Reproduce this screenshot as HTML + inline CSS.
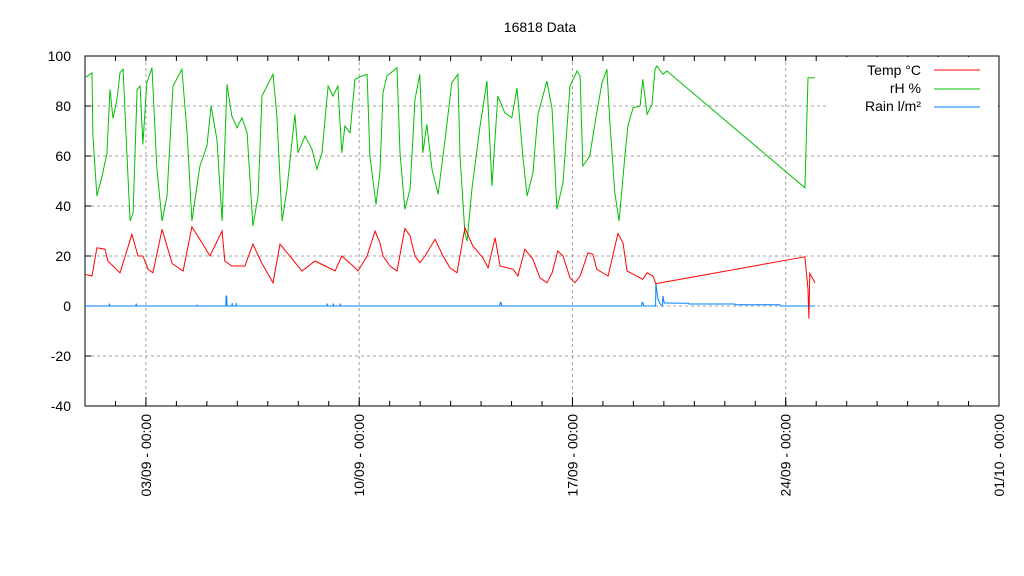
<!DOCTYPE html>
<html><head><meta charset="utf-8"><style>
body{margin:0;background:#fff;}
svg{display:block;font-family:"Liberation Sans",sans-serif;}
</style></head><body>
<svg id="chart" width="1024" height="576" viewBox="0 0 1024 576" xmlns="http://www.w3.org/2000/svg">
<rect width="1024" height="576" fill="#fff"/>
<text x="540" y="32" font-size="14" text-anchor="middle">16818 Data</text>
<g id="grid"></g>
<g id="axes"></g>
<g id="series"></g>
<g>
<rect x="826" y="57" width="172" height="59" fill="#fff"/>
<text x="921" y="75" font-size="14" text-anchor="end">Temp °C</text>
<line x1="934" y1="70" x2="980" y2="70" stroke="#ff0000"/>
<text x="921" y="93" font-size="14" text-anchor="end">rH %</text>
<line x1="934" y1="89" x2="980" y2="89" stroke="#00c000"/>
<text x="921" y="111" font-size="14" text-anchor="end">Rain l/m²</text>
<line x1="934" y1="107" x2="980" y2="107" stroke="#0080ff"/>
</g>
</svg>
<script>
// days since 01/09 00:00
const yTicks=[-40,-20,0,20,40,60,80,100];
const xTickDays=[2,9,16,23,30];
const xTickLabels=["03/09 - 00:00","10/09 - 00:00","17/09 - 00:00","24/09 - 00:00","01/10 - 00:00"];
const tempDays=[0,.23,.39,.66,.75,1.15,1.54,1.74,1.90,2.07,2.23,2.53,2.86,3.22,3.51,3.84,4.10,4.50,4.59,4.82,5.25,5.51,5.81,6.17,6.40,6.79,7.12,7.55,7.88,8.21,8.43,8.80,8.96,9.26,9.52,9.68,9.78,10.01,10.24,10.50,10.67,10.83,10.99,11.16,11.49,11.75,11.98,12.21,12.47,12.73,13.06,13.23,13.46,13.62,14.05,14.21,14.44,14.70,14.93,15.16,15.33,15.52,15.69,15.92,16.08,16.25,16.51,16.67,16.80,17.17,17.49,17.66,17.79,18.31,18.45,18.64,18.74,18.77,23.63,23.73,23.76,23.79,23.96];
const tempVals=[12.7,12,23.3,22.7,18,13.3,28.7,20,20,14.7,13.3,30.7,17,14,31.7,25.3,20,30,18,16,16,24.7,17,9.3,24.7,19,14,18,16,14,20,16,14,20,30,25.3,20,16,14,31,28,20,17.3,20,26.7,20,15.3,13.3,31.3,24,19.3,15.3,27.3,16,14.7,12,22.7,18.7,11.3,9.3,13.3,22,20,11.3,9.3,12,21.3,20.7,14.7,12,29,25.3,14,10.7,13.3,12,8.9,9,19.7,6.7,-5,13,9.3];
const rhDays=[0,.23,.26,.39,.56,.72,.82,.92,1.05,1.15,1.25,1.38,1.48,1.58,1.71,1.81,1.90,2.03,2.20,2.36,2.53,2.69,2.89,3.18,3.35,3.51,3.77,4.00,4.14,4.33,4.50,4.66,4.82,4.99,5.15,5.32,5.51,5.68,5.81,6.17,6.30,6.47,6.63,6.89,6.99,7.22,7.45,7.61,7.78,7.98,8.14,8.30,8.43,8.53,8.70,8.86,9.09,9.26,9.35,9.55,9.68,9.78,9.91,10.24,10.34,10.50,10.67,10.83,10.99,11.09,11.22,11.39,11.59,11.82,12.04,12.24,12.31,12.47,12.54,12.70,12.96,13.19,13.36,13.55,13.78,14.01,14.18,14.37,14.51,14.70,14.87,15.16,15.33,15.49,15.69,15.92,16.15,16.25,16.34,16.57,16.74,16.97,17.13,17.23,17.39,17.53,17.72,17.82,17.99,18.22,18.31,18.45,18.61,18.71,18.77,18.97,19.10,23.63,23.73,23.96];
const rhVals=[91.3,93.3,68,44,52,61,86.7,75,82.7,93.3,94.7,60,34,37.3,86.7,88,64.7,89.3,95.3,54.7,34,44,88,94.7,69.3,34,56,64,80,66.7,34,88.7,76,71.3,75.3,69.3,32,44,84,92.7,76,34,46.7,76.7,61.3,68,62.7,54.7,61.3,88,84,88,61.3,72,69.3,90.7,92,92.7,60,40.7,53.3,85.3,92,95.3,61.3,38.7,46.7,82.7,92.7,61.3,72.7,54.7,44.7,66.7,89.3,92.7,60,29.3,26,46.7,71.3,90,48,84,77.3,75.3,87.3,60,44,53.3,76.7,90,78.7,38.7,49.3,88,94,92,56,60,73.3,89.3,94.7,73.3,45.3,34,60,72,79.3,80,90.7,76.7,80.7,94.7,96,92.7,94,47.3,91.3,91.3];
const rainDays=[0,.79,.80,.81,1.67,1.68,1.69,3.67,3.68,3.69,4.62,4.63,4.65,4.66,4.82,4.83,4.84,4.95,4.96,4.97,7.94,7.95,7.96,8.14,8.15,8.16,8.37,8.38,8.39,13.61,13.63,13.66,13.68,18.27,18.29,18.32,18.33,18.73,18.74,18.80,18.87,18.90,18.95,18.97,19.01,19.06,19.81,19.82,21.33,21.34,22.81,22.82,23.96];
const rainVals=[0,0,1,0,0,1,0,0,.5,0,0,4,4,0,0,1.2,0,0,1.2,0,0,1,0,0,1,0,0,1,0,0,1.5,1.2,0,0,1.5,1.2,0,0,9,3,1,0.5,0,4,1.2,1.2,1.1,.8,.8,.5,.5,0,0];
const NS='http://www.w3.org/2000/svg';
const X0=85,X1=999,Y0=56,Y1=406;
const xs=d=>X0+(d/30)*(X1-X0);
const ys=v=>Y1-(v+40)/140*(Y1-Y0);
function mk(tag,attrs,parent){const e=document.createElementNS(NS,tag);for(const k in attrs)e.setAttribute(k,attrs[k]);parent.appendChild(e);return e;}
const grid=document.getElementById('grid'),axes=document.getElementById('axes'),ser=document.getElementById('series');
yTicks.forEach(v=>{
  if(v>-40&&v<100){const g=mk('line',{x1:X0,x2:X1,y1:ys(v),y2:ys(v),stroke:'#a0a0a0','stroke-dasharray':'3,3'},grid);
  
  }
  const t=mk('text',{x:X0-14,y:ys(v)+5,'font-size':14,'text-anchor':'end'},axes);
  t.textContent=v;
  
  
  mk('line',{x1:X0,x2:X0+6,y1:ys(v),y2:ys(v),stroke:'#000'},axes);
  mk('line',{x1:X1,x2:X1-6,y1:ys(v),y2:ys(v),stroke:'#000'},axes);
});
for(let d=1;d<30;d++){
  mk('line',{x1:xs(d),x2:xs(d),y1:Y1,y2:Y1-5,stroke:'#000'},axes);
  mk('line',{x1:xs(d),x2:xs(d),y1:Y0,y2:Y0+5,stroke:'#000'},axes);
}
xTickDays.forEach((d,i)=>{
  if(d<30){const g=mk('line',{x1:xs(d),x2:xs(d),y1:Y0,y2:Y1,stroke:'#a0a0a0','stroke-dasharray':'3,3'},grid);
  
  }
  mk('line',{x1:xs(d),x2:xs(d),y1:Y1,y2:Y1-9,stroke:'#000'},axes);
  const x=xs(d)+5,y=414;
  const t=mk('text',{x:x,y:y,'font-size':14,'text-anchor':'end',transform:`rotate(-90 ${x} ${y})`},axes);
  t.textContent=xTickLabels[i];
  
  
});
const frame=mk('rect',{x:X0,y:Y0,width:X1-X0,height:Y1-Y0,fill:'none',stroke:'#000'},axes);


function line(days,vals,color,name){
  const p=mk('polyline',{points:days.map((d,i)=>xs(d).toFixed(1)+','+ys(vals[i]).toFixed(1)).join(' '),fill:'none',stroke:color,'stroke-width':1},ser);
  
  
}
line(rainDays,rainVals,'#0080ff','rain-line');
line(rhDays,rhVals,'#00c000','rh-line');
line(tempDays,tempVals,'#ff0000','temp-line');
</script>
</body></html>
